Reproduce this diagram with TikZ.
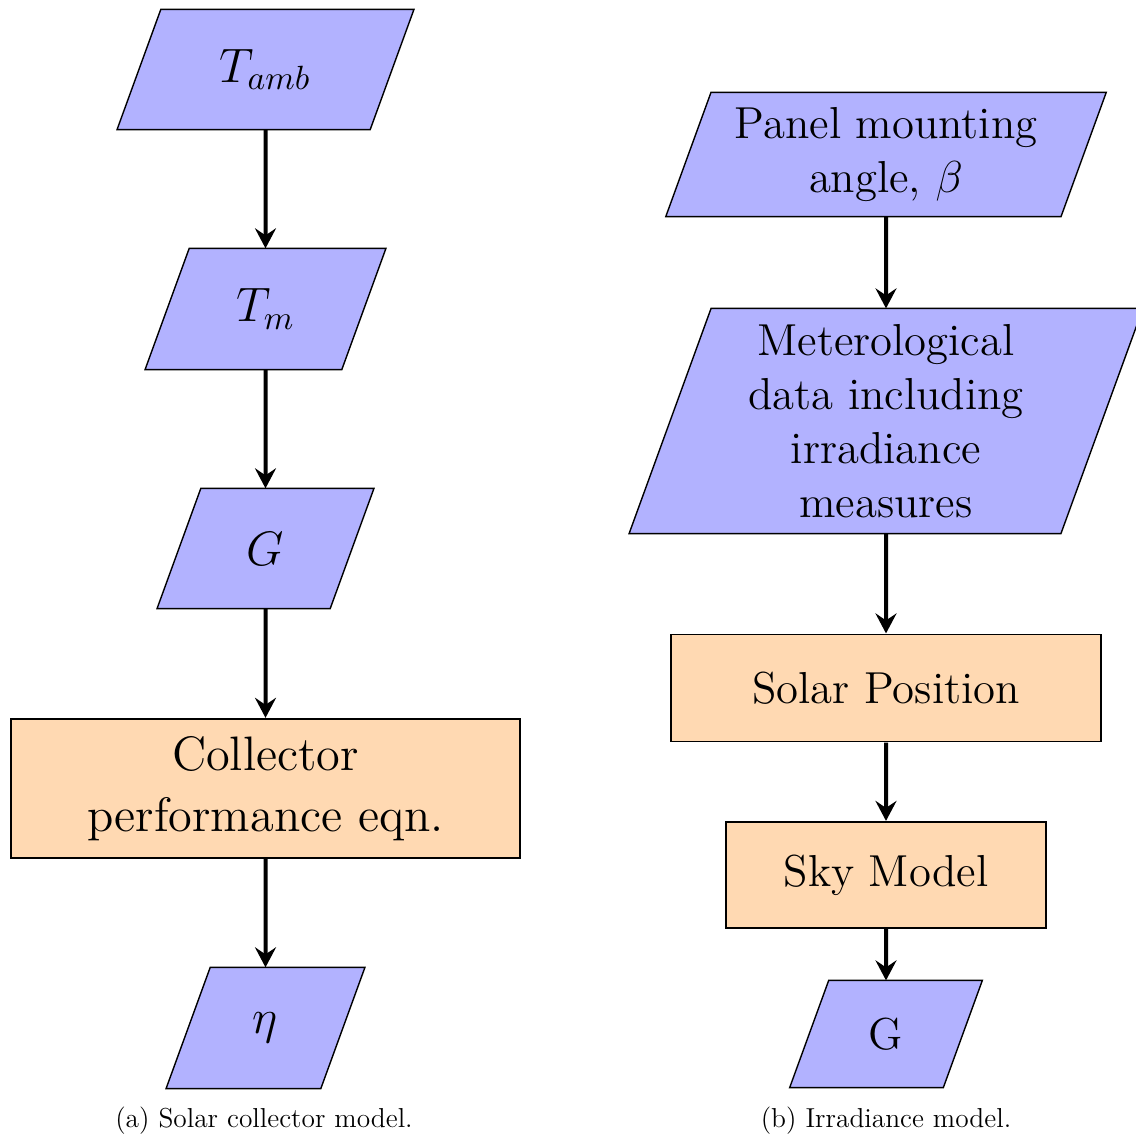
\documentclass[tikz,border=0pt]{standalone}
\usetikzlibrary{arrows.meta,calc,backgrounds}
\newcommand\ioshape[1]{%
  \path[iofill] let \p1=(#1.north east), \p2=(#1.south west), \n1={0.182*(\y1-\y2)} in
    (\x2-\n1,\y2) -- (\x1-\n1,\y2) -- (\x1+\n1,\y1) -- (\x2+\n1,\y1) -- cycle;}
\begin{document}
\begin{tikzpicture}[x=0.5pt,y=-0.5pt,
 io/.style={rectangle, inner sep=0pt, align=center},
 iofill/.style={draw=black, line width=0.7pt, fill=blue!30},
 proc/.style={rectangle, draw=black, line width=0.7pt, fill=orange!30, inner sep=0pt, align=center},
 arr/.style={-{Stealth[length=10pt,width=10.5pt,inset=3.5pt]}, line width=2pt},
 fa/.style 2 args={scale=1.68, font=\fontsize{14.4}{18}\selectfont, minimum width=#1pt/1.68, minimum height=#2pt/1.68},
 fb/.style 2 args={scale=1.555, font=\fontsize{14.4}{17.4}\selectfont, minimum width=#1pt/1.555, minimum height=#2pt/1.555},
 captext/.style={font=\fontsize{13.7}{16}\selectfont, anchor=base}]
\useasboundingbox (0,0) rectangle (1135,1139);
% left column
\node[io,fa={125.9}{59.5}] (tamb) at (265.5,69.5) {$T_{amb}$};
\node[io,fa={97.7}{60}] (tm) at (265.5,309) {$T_m$};
\node[io,fa={85.9}{59.5}] (g1) at (265.5,548.5) {$G$};
\node[proc,fa={254.5}{69.5}] (coll) at (265.5,788.5) {Collector\\performance eqn.};
\node[io,fa={76.7}{60}] (eta) at (265.5,1028) {$\eta$};
\draw[arr] (tamb) -- (tm);
\draw[arr] (tm) -- (g1);
\draw[arr] (g1) -- (coll);
\draw[arr] (coll) -- (eta);
\node[captext] (capa) at (264,1127) {(a) Solar collector model.};
% right column
\node[io,fb={197}{61.5}] (panel) at (886,154.5) {Panel mounting\\angle, $\beta$};
\node[io,fb={215.3}{112}] (met) at (886,421) {Meterological\\data including\\irradiance\\measures};
\node[proc,fb={215}{53.5}] (sol) at (886,688) {Solar Position};
\node[proc,fb={160}{53}] (sky) at (886,875) {Sky Model};
\node[io,fb={76.2}{53}] (g2) at (886,1034) {G};
\draw[arr] (panel) -- (met);
\draw[arr] (met) -- (sol);
\draw[arr] (sol) -- (sky);
\draw[arr] (sky) -- (g2);
\node[captext] (capb) at (886,1127) {(b) Irradiance model.};
\begin{scope}[on background layer]
\ioshape{tamb}
\ioshape{tm}
\ioshape{g1}
\ioshape{eta}
\ioshape{panel}
\ioshape{met}
\ioshape{g2}
\end{scope}
\end{tikzpicture}
\end{document}
